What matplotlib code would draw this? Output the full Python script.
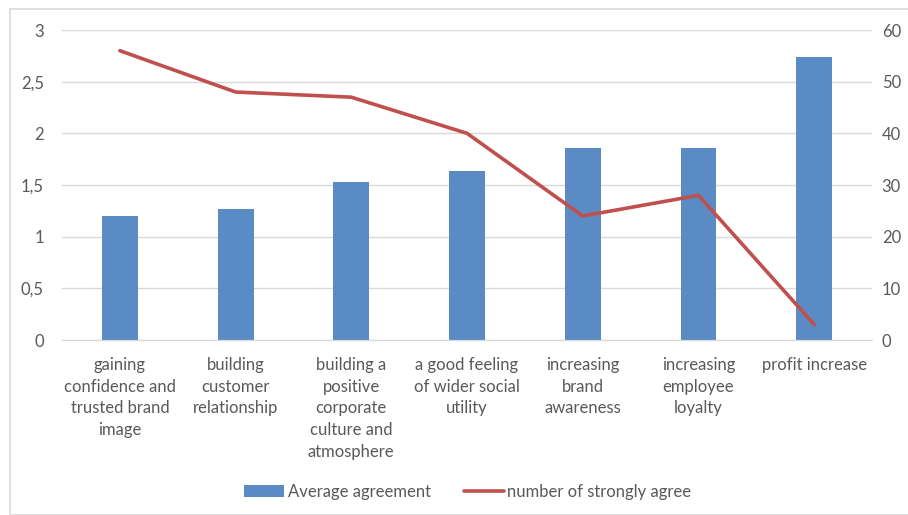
import matplotlib.pyplot as plt
from matplotlib.patches import Rectangle

categories = [
    "gaining\nconfidence and\ntrusted brand\nimage",
    "building\ncustomer\nrelationship",
    "building a\npositive\ncorporate\nculture and\natmosphere",
    "a good feeling\nof wider social\nutility",
    "increasing\nbrand\nawareness",
    "increasing\nemployee\nloyalty",
    "profit increase",
]
average_agreement = [1.2, 1.27, 1.53, 1.64, 1.86, 1.86, 2.74]
strongly_agree = [56, 48, 47, 40, 24, 28, 3]

left_ticks = [0, 0.5, 1, 1.5, 2, 2.5, 3]
left_labels = ["0", "0,5", "1", "1,5", "2", "2,5", "3"]
right_ticks = [0, 10, 20, 30, 40, 50, 60]

bar_color = "#5B8BC5"
line_color = "#C0504D"
text_color = "#595959"
grid_color = "#D9D9D9"

plt.rcParams["font.family"] = ["Lato", "DejaVu Sans"]

fig = plt.figure(figsize=(9.08, 5.15), dpi=100)
ax = fig.add_axes([0.0683, 0.3398, 0.8921, 0.6019])

# outer chart border
fig.patches.append(Rectangle((10 / 908, 0.0), 1.0, 1 - 9 / 515,
                             transform=fig.transFigure, fill=False,
                             edgecolor="#D9D9D9", linewidth=1.2))

x = list(range(len(categories)))
bars = ax.bar(x, average_agreement, width=0.31, color=bar_color, zorder=2,
              label="Average agreement")
ax.set_ylim(0, 3)
ax.set_xlim(-0.5, len(categories) - 0.5)
ax.set_yticks(left_ticks)
ax.set_yticklabels(left_labels)
ax.yaxis.grid(True, color=grid_color, linewidth=1, zorder=0)
ax.set_axisbelow(True)
ax.set_xticks(x)
ax.set_xticklabels(categories, linespacing=1.45, va="top")

ax2 = ax.twinx()
line, = ax2.plot(x, strongly_agree, color=line_color, linewidth=2.6,
                 solid_capstyle="round", label="number of strongly agree")
ax2.set_ylim(0, 60)
ax2.set_yticks(right_ticks)

for a in (ax, ax2):
    for side in ("top", "right", "left"):
        a.spines[side].set_visible(False)
    a.spines["bottom"].set_color(grid_color)
    a.tick_params(length=0, colors=text_color, labelsize=12)
ax.tick_params(axis="y", pad=13)
ax2.tick_params(axis="y", pad=7)
ax.tick_params(axis="x", pad=12)

fig.legend([bars, line], ["Average agreement", "number of strongly agree"],
           loc="center", bbox_to_anchor=(468 / 908, 1 - 492 / 515), ncol=2,
           frameon=False, fontsize=12, labelcolor=text_color,
           handlelength=2.4, handletextpad=0.2, columnspacing=2.0)

fig.savefig("out.png", dpi=100)
